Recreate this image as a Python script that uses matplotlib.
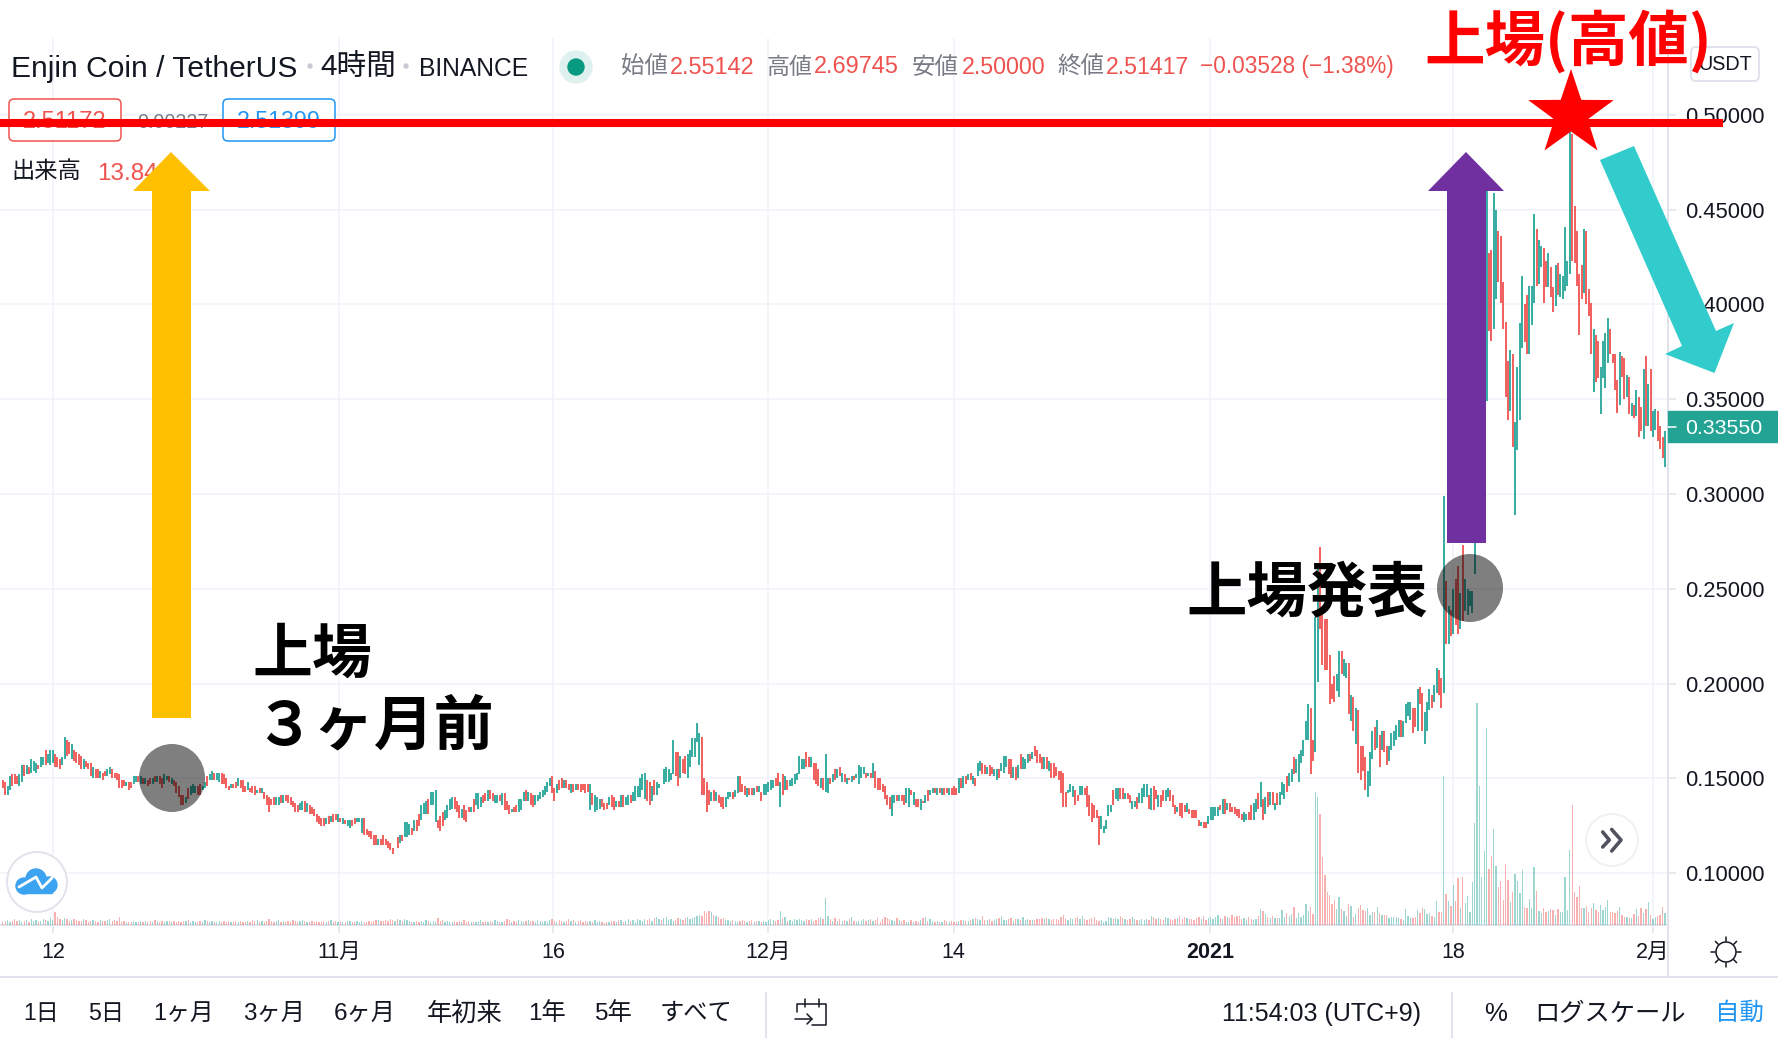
import numpy as np
import matplotlib
matplotlib.use("Agg")
import matplotlib.pyplot as plt
from matplotlib.patches import Polygon, Ellipse, FancyBboxPatch, Circle, Rectangle

# Prices in thousandths of a USDT; ten 4-hour bars per group
bar_high = [
149,148,146,151,152,152,151,152,157,157, 157,156,160,159,158,157,161,161,165,163,
165,165,163,161,160,161,172,170,169,168, 165,164,163,162,160,159,158,158,156,155,
155,154,153,154,155,156,155,153,153,152, 149,149,148,148,148,151,151,151,151,150,
150,149,150,150,151,151,151,150,152,151, 151,150,149,148,146,141,141,140,145,146,
147,146,146,147,146,148,151,152,154,153, 153,153,153,152,150,146,147,147,148,150,
149,149,146,148,145,146,146,144,145,145, 143,141,140,139,140,140,140,141,141,141,
141,140,138,137,136,137,138,138,137,136, 135,134,131,130,129,129,129,130,130,131,
131,131,129,129,128,128,128,128,129,129, 129,129,129,123,122,122,120,120,118,118,
120,118,117,116,113,112,119,120,120,127, 127,126,124,128,128,131,136,137,138,139,
143,143,144,128,130,132,133,136,139,140, 140,138,136,134,136,133,135,135,139,142,
142,140,141,142,144,144,142,141,141,141, 142,142,138,136,134,135,136,139,139,143,
144,143,142,141,141,141,143,144,146,148, 150,151,145,147,149,150,149,149,147,147,
147,147,147,147,147,147,147,147,142,141, 140,139,139,137,137,140,141,140,138,138,
141,141,140,141,141,143,146,146,150,152, 153,149,148,146,149,148,147,147,155,156,
155,153,170,164,164,162,160,162,163,165, 171,171,179,174,172,150,148,144,143,144,
143,141,140,140,140,143,143,143,144,151, 151,147,146,145,145,145,145,146,146,143,
147,147,148,149,149,150,153,148,152,151, 149,149,150,152,153,162,160,160,164,161,
161,158,158,155,150,150,163,150,150,152, 155,155,156,153,152,150,150,151,151,152,
157,156,156,153,153,153,158,154,150,150, 147,146,141,140,141,141,141,141,141,141,
145,145,144,143,139,139,139,138,141,144, 144,145,145,145,145,145,145,145,145,145,
146,145,150,150,151,151,152,153,151,150, 158,159,158,157,156,157,156,155,155,155,
158,162,162,160,160,156,156,157,163,161, 160,163,163,164,167,165,163,161,161,161,
159,158,158,156,154,154,153,143,144,147, 146,144,141,146,146,145,146,141,137,136,
133,130,130,125,128,136,136,144,145,145, 145,145,142,142,141,138,138,140,142,145,
147,147,141,145,146,144,141,141,144,144, 145,144,141,136,135,137,137,136,137,134,
133,133,133,128,127,127,127,130,135,135, 135,135,136,139,139,137,137,135,135,134,
134,131,132,131,132,136,137,139,142,148, 139,140,143,143,143,137,142,143,148,147,
151,153,155,161,160,163,165,170,180,189, 187,170,235,262,272,237,234,234,215,200,
204,205,217,217,213,211,211,194,193,187, 186,167,167,161,154,164,175,177,181,173,
175,175,167,167,174,175,178,181,181,180, 189,190,190,187,187,197,198,195,185,190,
197,194,199,208,207,203,299,254,241,239, 250,255,262,248,273,255,250,249,249,330,
340,360,400,440,460,427,429,459,450,439, 436,412,391,370,376,374,338,367,390,415,
400,405,410,410,448,440,434,431,430,423, 427,420,409,421,422,416,415,441,423,491,
490,452,439,416,421,440,439,408,401,387, 384,381,367,381,385,393,387,374,374,360,
375,373,372,363,362,348,347,355,351,346, 366,373,358,366,344,345,344,336,330,333,
]
bar_low = [
145,141,141,144,146,147,147,146,148,151, 152,152,153,154,153,155,156,157,157,158,
157,158,156,156,155,157,160,162,163,160, 159,158,157,155,155,156,155,151,150,150,
150,150,149,151,151,152,150,150,149,145, 145,146,146,144,145,147,148,148,147,147,
147,146,147,147,148,148,147,145,147,149, 148,147,146,142,140,136,136,137,139,141,
142,142,141,141,144,145,146,149,149,149, 149,148,147,147,145,144,145,145,145,146,
145,143,143,144,143,142,141,142,142,142, 139,136,132,136,136,136,136,137,137,138,
137,136,135,132,132,133,133,132,132,131, 131,130,127,126,125,125,126,126,127,127,
128,127,127,126,126,125,124,125,126,127, 127,121,120,120,119,118,115,115,115,115,
115,115,113,112,110,112,113,116,117,119, 119,120,120,122,122,125,128,131,131,131,
136,136,127,124,122,125,128,129,133,134, 134,132,129,129,128,127,132,132,132,136,
134,135,137,138,138,139,138,137,137,138, 136,133,133,131,132,132,132,132,133,138,
138,138,136,135,136,138,139,140,141,143, 146,142,138,142,144,145,145,145,144,142,
143,144,144,143,144,142,143,133,136,132, 133,134,135,133,134,136,135,133,135,135,
135,135,136,136,137,138,138,140,140,144, 139,138,136,138,141,141,145,147,147,148,
148,149,152,151,146,150,153,152,150,156, 161,161,169,157,141,141,132,136,138,138,
138,137,135,134,135,139,140,139,140,142, 143,143,141,140,141,141,141,143,143,138,
141,141,143,144,145,146,146,135,141,144, 144,146,146,147,149,152,155,155,156,156,
156,149,147,146,145,144,143,142,147,148, 149,150,151,148,148,147,149,148,149,150,
147,150,152,150,151,150,150,145,144,144, 143,139,136,134,130,137,138,138,138,136,
137,135,141,136,135,135,133,137,137,138, 141,142,142,141,142,141,141,142,141,141,
141,141,142,145,145,147,149,149,147,146, 151,154,152,152,152,151,152,151,149,150,
154,153,156,152,150,150,149,150,155,155, 155,158,159,160,162,158,158,155,155,155,
154,150,150,151,149,142,135,135,142,143, 140,136,138,141,141,141,135,130,127,129,
129,115,123,121,123,130,132,136,139,138, 139,139,139,139,137,134,135,134,137,137,
140,140,134,133,133,139,135,135,138,138, 140,138,135,131,132,130,129,132,132,131,
129,129,129,125,125,124,124,126,128,128, 130,130,133,131,131,133,132,132,131,130,
129,128,127,128,128,128,128,132,134,135, 128,131,135,136,136,133,136,136,141,139,
143,146,148,152,153,148,158,162,170,170, 152,159,164,201,229,210,207,207,189,192,
190,196,193,205,204,203,184,180,175,168, 153,149,154,144,140,146,160,165,166,156,
165,164,157,159,165,167,170,172,172,172, 179,183,181,174,177,175,189,175,168,175,
186,187,190,195,194,187,195,221,221,225, 226,231,226,229,233,238,236,241,237,258,
300,320,340,360,349,386,381,387,403,412, 401,387,351,339,344,325,289,323,339,377,
380,374,374,389,401,410,411,420,401,409, 409,404,396,399,405,404,403,407,410,416,
423,422,410,384,403,406,400,394,374,354, 359,361,342,361,356,369,374,369,355,343,
347,362,350,351,342,341,340,341,330,333, 329,336,336,333,330,334,328,324,319,314,
]
# u = rising bar, d = falling bar
bar_dir_rows = [
"dduuddduud", "uduuuduudu", "uuddduuddu", "ddddudddud", "dudduudddd", "ddudduudud",
"uddududduu", "dudddddudu", "uudduuduud", "uudddduddu", "dddudddudu", "ddddduudud",
"ddddduudud", "ddddddudud", "dududuuddu", "uuddddddud", "dddddududu", "uududduuud",
"uuuddduuuu", "dddudddudu", "uuddudduud", "udddudduuu", "dudduuuuuu", "uddudduddu",
"dudddddudu", "uuddduddud", "uduuduuuuu", "udduduuduu", "uuuddudduu", "uuuuddddud",
"uddduuuduu", "ddduddudud", "uuuuuddudu", "duuuuuuudd", "uddduduudu", "dududududu",
"uuudududdd", "dddduududd", "uududdudud", "uudududdud", "ddudududud", "uuddudduud",
"uuuddududu", "uududdddud", "uddddddduu", "udduuddddd", "dduuuuuduu", "ddudduuduu",
"uududduddu", "udddudddud", "ddddudduuu", "uudududddd", "dduudduudu", "dudududuuu",
"duuduuuuuu", "dduudddddd", "duuduududu", "dddduuudud", "udduuuuudu", "uuuddudduu",
"uduuddudud", "udduduuuuu", "uuuuudduud", "dddduduuuu", "dduuuduudd", "udduduuuuu",
"dddddudddu", "dduuuudddd", "uddudududd", "ududuudddu",
]
# Volume, read against the lower pane
bar_volume = [
3,4,5,3,4,6,4,5,3,4, 5,3,6,4,5,3,4,6,5,4, 7,5,13,8,6,5,7,6,4,5, 6,5,4,4,6,5,3,4,5,4,
3,5,4,4,5,6,4,5,4,8, 3,4,2,3,3,4,3,3,4,3, 4,3,4,3,5,4,3,4,3,4, 4,3,4,3,4,3,4,4,5,3,
4,3,3,4,3,5,4,3,4,3, 3,4,3,4,3,4,3,3,4,3, 4,3,3,4,3,5,4,5,3,4, 3,4,6,4,3,4,5,3,4,3,
4,3,5,4,3,4,5,4,3,3, 4,3,4,3,3,4,3,4,5,3, 4,3,4,3,3,4,4,3,3,4, 3,4,3,3,4,3,4,5,5,4,
4,5,4,6,5,4,6,5,4,6, 5,4,3,3,4,3,4,3,5,4, 3,4,3,7,4,5,3,4,3,3, 4,3,4,3,5,3,4,3,3,3,
4,5,3,4,3,4,3,5,4,3, 3,4,6,5,3,4,3,5,4,3, 4,5,4,4,3,5,4,3,4,3, 5,6,4,3,5,4,3,4,6,4,
5,3,4,5,3,4,3,4,3,5, 3,4,3,2,3,3,4,4,3,5, 5,3,4,6,4,5,3,6,5,4, 6,5,6,4,7,8,6,5,7,8,
5,6,4,5,7,6,5,7,8,6,7,8,9,
10,9,14,12,14,13,10,9,8,6, 7,5,5,4,5,4,3,4,5,4, 3,4,5,3,4,4,3,4,3,5, 6,5,4,5,
14,7,8,4,5,4,6,5,6,5, 4,6,5,6,4,5,7,8,6,27,9,6,4,
7,4,6,4,5,4,6,8,4,3, 4,5,6,4,5,6,4,5,7,3, 6,8,7,6,5,4,7,5,4,5,
3,3,5,3,4,3,5,7,8,4, 6,4,3,4,3,3,5,4,3,4, 3,3,4,5,5,4,4,5,6,7, 6,5,9,5,5,6,4,5,6,7,
9,5,5,6,7,4,6,6,5,8, 5,6,5,5,5,6,6,7,6,7, 6,5,6,6,5,8,10,6,5,7, 6,7,8,6,9,6,5,6,7,8,
5,4,5,3,4,8,7,6,7,6, 9,7,6,5,6,8,6,5,5,6, 5,6,5,9,8,6,7,6,5,8, 7,6,5,6,7,9,6,8,7,6,
6,5,7,8,6,9,5,7,8,6, 8,10,7,6,9,8,7,10,8,9, 9,6,7,5,8,6,5,6,9,16,
14,11,8,7,9,7,7,7,15,8, 12,9,11,18,7,12,8,10,21,14, 18,11,133,128,111,68,50,33,30,21,
25,16,28,16,14,9,21,19,8,11, 17,20,15,14,17,10,13,13,18,12, 10,10,10,7,8,8,8,7,6,5,
16,9,7,7,8,15,12,17,16,11, 12,9,8,24,13,13,149,31,24,19, 40,24,47,17,48,22,29,13,43,102,
222,139,48,74,197,56,69,96,59,38, 44,25,61,45,23,33,51,44,32,55, 18,17,26,17,58,34,14,12,17,13,
14,16,15,10,16,13,13,48,15,75, 120,33,28,39,17,17,19,13,17,22, 15,13,20,15,18,25,13,13,12,14,
18,10,8,8,7,7,11,16,9,17, 12,16,23,10,6,8,9,10,18,12,
]
price_ticks = [0.10, 0.15, 0.20, 0.25, 0.30, 0.35, 0.40, 0.45, 0.50]
date_tick_bars = [21.2, 141.5, 231.5, 321.7, 399.9, 507.7, 610.0, 694.0]
date_tick_labels = ["12", "11月", "16", "12月", "14", "2021", "18", "2月"]
last_price = 0.33550
high_line_price = 0.4960

W, H = 1778, 1038
TEAL, RED = "#26a69a", "#ef5350"
GRID, LINE = "#f0f3fa", "#e0e3eb"
INK, GREY, BLUE = "#131722", "#787b86", "#2196f3"
FONT = ["Liberation Sans", "Noto Sans CJK JP", "DejaVu Sans"]
CJK = ["Noto Sans CJK JP", "DejaVu Sans"]
plt.rcParams["font.family"] = FONT

bar_dir = "".join(bar_dir_rows)
n = len(bar_high)
idx = np.arange(n)
hi = np.array(bar_high) / 1000
lo = np.array(bar_low) / 1000
vol = np.array(bar_volume[-n:], float)
vol = np.concatenate([np.full(n - len(vol), 4.0), vol])
up = np.array([c == "u" for c in bar_dir[:n]])

fig = plt.figure(figsize=(W / 100, H / 100), dpi=100, facecolor="white")
pos = [0, 1 - 925 / H, 1668 / W, (925 - 38) / H]
ax = fig.add_axes(pos, facecolor="white", zorder=1)
ax.set_xlim(-1.169, 700.3)
ax.set_ylim(0.5 - 810 / 1895, 0.5 + 77 / 1895)
ax.set_yticks(price_ticks, [f"{p:.5f}" for p in price_ticks])
ax.yaxis.tick_right()
ax.set_xticks(date_tick_bars, date_tick_labels)
ax.grid(True, color=GRID, lw=1.1)
ax.set_axisbelow(True)
ax.tick_params(axis="y", length=6, width=1.1, color=LINE, pad=6, labelsize=15.8, labelcolor=INK)
ax.tick_params(axis="x", length=6, width=1.1, color=LINE, pad=6, labelsize=15.5, labelcolor=INK)
for lab in ax.get_yticklabels():
    lab.set_y(lab.get_position()[1])
for lab in ax.get_xticklabels():
    lab.set_family(FONT)
    if lab.get_text() == "2021":
        lab.set_fontweight("bold")
for s in ("top", "left"):
    ax.spines[s].set_visible(False)
for s in ("bottom", "right"):
    ax.spines[s].set_color(LINE)
    ax.spines[s].set_linewidth(1.4)

ax_v = fig.add_axes(pos, facecolor="none", zorder=2, sharex=ax)
ax_v.set_ylim(0, 887)
ax_v.axis("off")
ax_v.bar(idx, vol, width=0.55, color=np.where(up, TEAL, RED), alpha=0.45, lw=0)

ax_p = fig.add_axes(pos, facecolor="none", zorder=3, sharex=ax)
ax_p.set_ylim(ax.get_ylim())
ax_p.axis("off")
ax_p.vlines(idx, lo, hi, colors=np.where(up, TEAL, RED), lw=1.3)

ui = fig.add_axes([0, 0, 1, 1], facecolor="none", zorder=5)
ui.set_xlim(0, W)
ui.set_ylim(H, 0)
ui.axis("off")
rend = fig.canvas.get_renderer()

def put(s, x0, x1, yc, color=INK, fam=FONT, weight="normal", z=5):
    t = ui.text(x0, yc, s, va="center", ha="left", color=color, family=fam,
                fontweight=weight, fontsize=16, zorder=z)
    t.set_fontsize(16 * (x1 - x0) / t.get_window_extent(rend).width)
    return t

def line(xs, ys, color=INK, lw=1.1, z=5):
    ui.plot(xs, ys, color=color, lw=lw, solid_capstyle="round", zorder=z)

# Frame lines
line([1668, 1668], [38, 977], LINE, 1.4, 2)
line([0, W], [977, 977], LINE, 1.4, 2)
for sx in (766, 1452):
    line([sx, sx], [993, 1038], LINE, 1.4, 2)

# Header
put("Enjin Coin / TetherUS", 11, 298, 69)
put("4時間", 320, 396, 68)
put("BINANCE", 419, 529, 69)
for dx in (310, 406):
    ui.add_patch(Circle((dx, 66), 2, color="#c8cad2", zorder=5))
ui.add_patch(Circle((576, 67), 16, color="#dff1ee", zorder=5))
ui.add_patch(Circle((576, 67), 8, color="#089981", zorder=6))
for s, a, b, c in [("始値", 621, 668, GREY), ("2.55142", 670, 755, RED), ("高値", 766, 812, GREY),
                   ("2.69745", 814, 899, RED), ("安値", 912, 959, GREY), ("2.50000", 962, 1046, RED),
                   ("終値", 1057, 1104, GREY), ("2.51417", 1106, 1190, RED),
                   ("−0.03528 (−1.38%)", 1200, 1394, RED)]:
    put(s, a, b, 67, c)
ui.add_patch(FancyBboxPatch((9, 99), 112, 42, boxstyle="round,pad=0,rounding_size=5", fc="white", ec=RED, lw=1.1, zorder=4))
ui.add_patch(FancyBboxPatch((223, 99), 112, 42, boxstyle="round,pad=0,rounding_size=5", fc="white", ec=BLUE, lw=1.1, zorder=4))
put("2.51172", 23, 107, 122, RED)
put("0.00227", 137, 208, 122, GREY)
put("2.51399", 237, 321, 122, BLUE)
put("出来高", 11, 81, 172)
put("13.84", 97, 158, 174, RED)
ui.add_patch(FancyBboxPatch((1691, 47), 68, 34, boxstyle="round,pad=0,rounding_size=5", fc="white", ec=LINE, lw=1.4, zorder=4))
put("USDT", 1698, 1752, 64)

# Last price tag
ui.add_patch(Rectangle((1668, 411), 110, 31, color="#22a394", zorder=4))
line([1668, 1676], [426.5, 426.5], "white", 1.1, 5)
put(f"{last_price:.5f}", 1685, 1762, 428, "white")

# Bottom bar
for s, a, b in [("1日", 23, 59), ("5日", 88, 124), ("1ヶ月", 153, 214), ("3ヶ月", 243, 305),
                ("6ヶ月", 334, 396), ("年初来", 427, 503), ("1年", 528, 566), ("5年", 594, 632),
                ("すべて", 660, 733), ("11:54:03 (UTC+9)", 1222, 1421), ("%", 1484, 1507),
                ("ログスケール", 1534, 1686)]:
    put(s, a, b, 1014)
put("自動", 1715, 1764, 1014, BLUE)

# Sun icon
ui.add_patch(Circle((1726, 952), 10, fc="none", ec=INK, lw=1.1, zorder=5))
for k in range(8):
    a = k * np.pi / 4
    line([1726 + 11 * np.cos(a), 1726 + 15 * np.cos(a)], [952 + 11 * np.sin(a), 952 + 15 * np.sin(a)], INK, 1.1)
# Calendar icon
line([797, 797, 826, 826, 812], [1012, 1004, 1004, 1025, 1025])
for cx in (805, 819):
    line([cx, cx], [999, 1007])
line([795, 812], [1019, 1019])
line([807, 812, 807], [1014, 1019, 1024])

# Logo button
ui.add_patch(Circle((37, 882), 30, fc="white", ec=LINE, lw=1.4, zorder=5))
for cx, cy, r in [(24, 886, 8), (36, 879, 10), (49, 885, 8)]:
    ui.add_patch(Circle((cx, cy), r, color="#3ba3f0", zorder=6))
ui.add_patch(Rectangle((22, 884), 30, 9, color="#3ba3f0", zorder=6))
line([19, 36, 42, 52], [887, 877, 888, 878], "white", 2, 7)

# Scroll button
ui.add_patch(Circle((1612, 840), 27, fc="#f0f1f5", ec="none", zorder=5))
ui.add_patch(Circle((1612, 840), 25, fc="white", ec="none", zorder=5))
line([1602.7, 1609.3, 1602.7], [832, 840, 847], "#50535e", 2.6, 6)
line([1611.7, 1621, 1611.7], [829.5, 840, 851], "#50535e", 2.6, 6)

# Annotations
ui.add_patch(Ellipse((172, 778), 66, 68, color="black", alpha=0.5, lw=0, zorder=8))
ui.add_patch(Ellipse((1470, 588), 66, 68, color="black", alpha=0.5, lw=0, zorder=8))
ui.add_patch(Polygon([(152, 718), (191, 718), (191, 191), (210, 191), (171, 152), (133, 191), (152, 191)],
                     color="#ffc000", lw=0, zorder=8))
ui.add_patch(Polygon([(1447, 543), (1486, 543), (1486, 191), (1504, 191), (1466, 152), (1428, 191), (1447, 191)],
                     color="#7030a0", lw=0, zorder=8))
ui.add_patch(Polygon([(1600, 160), (1634, 146), (1716, 331), (1734, 323), (1714.5, 373), (1665, 354), (1682, 346)],
                     color="#33cccc", lw=0, zorder=8))
y_line = 115 + (0.5 - high_line_price) * 1895
line([0, 1723], [y_line, y_line], "#ff0000", 5.8, 9)
ui.lines[-1].set_solid_capstyle("butt")
star = []
for k in range(10):
    r = 45 if k % 2 == 0 else 17.5
    a = -np.pi / 2 + k * np.pi / 5
    star.append((1571 + r * np.cos(a), 114 + r * np.sin(a)))
ui.add_patch(Polygon(star, color="#ff0000", lw=0, zorder=10))
put("上場", 252, 372, 655, "black", CJK, "bold", 11)
put("３ヶ月前", 254, 494, 727, "black", CJK, "bold", 11)
put("上場発表", 1186, 1428, 594, "black", CJK, "bold", 11)
put("上場(高値)", 1424, 1712, 42, "#ff0000", CJK, "bold", 11)

fig.savefig("out.png", dpi=100, facecolor="white")
